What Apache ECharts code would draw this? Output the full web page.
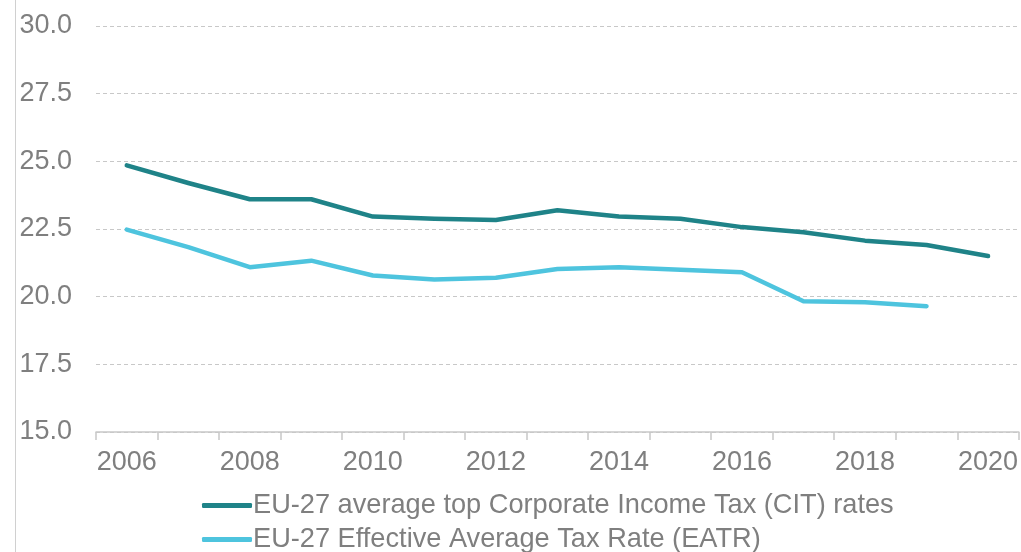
<!DOCTYPE html>
<html>
<head>
<meta charset="utf-8">
<script src="https://cdn.jsdelivr.net/npm/echarts@6/dist/echarts.min.js"></script>
<style>
  html, body { margin: 0; padding: 0; background: #fff; }
  #chart { width: 1021px; height: 552px; }
</style>
</head>
<body>
<div id="chart"></div>
<script>
// Years on the category axis
const years = ['2006','2007','2008','2009','2010','2011','2012','2013','2014','2015','2016','2017','2018','2019','2020'];

// EU-27 average top statutory CIT rate (%)
const citRates = [24.85, 24.2, 23.6, 23.6, 22.96, 22.88, 22.83, 23.19, 22.96, 22.88, 22.57, 22.38, 22.07, 21.91, 21.5];

// EU-27 effective average tax rate (%), no 2020 value
const eatrRates = [22.48, 21.83, 21.09, 21.33, 20.78, 20.63, 20.7, 21.02, 21.09, 20.99, 20.9, 19.83, 19.79, 19.65, null];

const citName = 'EU-27 average top Corporate Income Tax (CIT) rates';
const eatrName = 'EU-27 Effective Average Tax Rate (EATR)';

const textGray = '#7f7f7f';
const fontFamily = '"Liberation Sans", Arial, sans-serif';

const chart = echarts.init(document.getElementById('chart'), null, { renderer: 'canvas' });

// one legend row per series, stacked under the axis
function legendRow(name, top) {
  return {
    left: 197,
    top: top,
    itemWidth: 50,
    itemHeight: 5,
    icon: 'roundRect',
    textStyle: { color: textGray, fontSize: 27.2, fontFamily: fontFamily, padding: [0, 0, 0, -4] },
    data: [name]
  };
}

chart.setOption({
  animation: false,
  backgroundColor: '#ffffff',
  textStyle: { fontFamily: fontFamily },
  grid: { left: 96, right: 0, top: 26, bottom: 120 },
  graphic: [{
    type: 'line',
    shape: { x1: 15.5, y1: 0, x2: 15.5, y2: 552 },
    style: { stroke: '#d0d0d0', lineWidth: 1 }
  }],
  legend: [legendRow(citName, 487), legendRow(eatrName, 521)],
  xAxis: {
    type: 'category',
    data: years,
    boundaryGap: true,
    axisLine: { show: true, lineStyle: { color: '#c8c8c8', width: 1.5 } },
    axisTick: { show: true, interval: 0, length: 8, lineStyle: { color: '#c8c8c8', width: 1.5 } },
    axisLabel: { interval: 1, color: textGray, fontSize: 27, margin: 17, fontFamily: fontFamily },
    splitLine: { show: false }
  },
  yAxis: {
    type: 'value',
    min: 15,
    max: 30,
    interval: 2.5,
    axisLine: { show: false },
    axisTick: { show: false },
    axisLabel: {
      color: textGray, fontSize: 27, margin: 24, fontFamily: fontFamily,
      formatter: v => v.toFixed(1)
    },
    splitLine: { show: true, lineStyle: { color: '#c8c8c8', type: [4, 3], width: 1 } }
  },
  series: [
    {
      name: citName,
      type: 'line',
      data: citRates,
      symbol: 'none',
      lineStyle: { color: '#1f8388', width: 4.5, cap: 'round', join: 'round' },
      itemStyle: { color: '#1f8388' }
    },
    {
      name: eatrName,
      type: 'line',
      data: eatrRates,
      symbol: 'none',
      lineStyle: { color: '#4ec4de', width: 4.5, cap: 'round', join: 'round' },
      itemStyle: { color: '#4ec4de' }
    }
  ]
});
</script>
</body>
</html>
